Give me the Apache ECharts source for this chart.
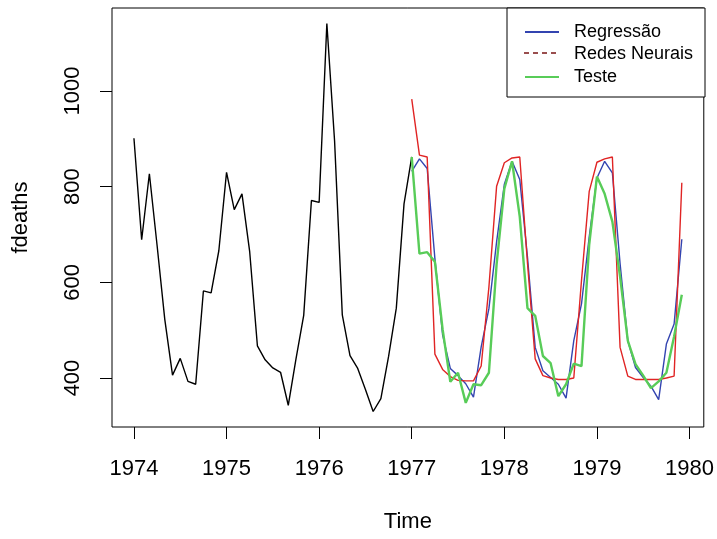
<!DOCTYPE html>
<html>
<head>
<meta charset="utf-8">
<script src="https://cdn.jsdelivr.net/npm/echarts@6/dist/echarts.min.js"></script>
<style>
html, body { margin: 0; padding: 0; background: #fff; }
#main { width: 717px; height: 539px; }
</style>
</head>
<body>
<div id="main"></div>
<script>
// serie mensal fdeaths, treino 1974 - jan/1977
var trainStart = 1974;
var treino = [901, 689, 827, 677, 522, 406, 441, 393, 387, 582, 578, 666,
  830, 752, 785, 664, 467, 438, 421, 412, 343, 440, 531, 771,
  767, 1141, 896, 532, 447, 420, 376, 330, 357, 445, 546, 764,
  862];

// periodo de teste 1977 - 1979
var testStart = 1977;
var teste = [862, 660, 663, 643, 502, 392, 411, 348, 387, 385, 411, 638,
  796, 853, 737, 546, 530, 446, 431, 362, 387, 430, 425, 679,
  821, 785, 727, 612, 478, 429, 405, 379, 393, 411, 487, 574];

var regressao = [832, 858, 838, 650, 490, 420, 405, 388, 360, 465, 545, 685,
  805, 853, 815, 653, 464, 415, 401, 387, 358, 478, 555, 695,
  818, 853, 829, 639, 478, 422, 401, 383, 355, 471, 513, 690];

var redes = [983, 866, 862, 450, 418, 403, 395, 394, 394, 425, 590, 801,
  850, 860, 862, 640, 440, 405, 400, 397, 397, 400, 604, 790,
  851, 858, 862, 464, 404, 397, 397, 397, 397, 400, 404, 808];

var xTicks = [1974, 1975, 1976, 1977, 1978, 1979, 1980];
var yTicks = [400, 600, 800, 1000];

// transforma vetor mensal em pares [tempo, valor]
function serie(start, vals) {
  var out = [];
  for (var i = 0; i < vals.length; i++) {
    out.push([start + i / 12, vals[i]]);
  }
  return out;
}

var chart = echarts.init(document.getElementById('main'));
var fonte = 'Liberation Sans, Arial, sans-serif';
var semSep = function (v) { return String(v); };

var option = {
  animation: false,
  grid: {
    left: 112, right: 12, top: 8, bottom: 112,
    show: true, borderColor: '#000', borderWidth: 1, backgroundColor: 'transparent'
  },
  graphic: [
    {
      type: 'rect',
      shape: { x: 507, y: 8, width: 198, height: 89 },
      style: { fill: '#fff', stroke: '#000', lineWidth: 1 },
      z: 50
    },
    {
      // traço da legenda "Redes Neurais" (tracejado vinho)
      type: 'line',
      shape: { x1: 524, y1: 53, x2: 558, y2: 53 },
      style: { stroke: '#7a1414', lineWidth: 1.6, lineDash: [5, 4] },
      z: 70
    }
  ],
  legend: {
    orient: 'vertical',
    left: 524, top: 23,
    padding: 0,
    itemWidth: 34, itemHeight: 14, itemGap: 4.5,
    selectedMode: false,
    z: 60,
    itemStyle: { opacity: 0 },
    textStyle: { fontFamily: fonte, fontSize: 18, color: '#000', padding: [0, 0, 0, 10] },
    data: [
      { name: 'Regressão' },
      { name: 'Redes Neurais', lineStyle: { opacity: 0 } },
      { name: 'Teste' }
    ]
  },
  xAxis: {
    type: 'value',
    min: 1973.763, max: 1980.154,
    splitLine: { show: false },
    axisLine: { show: false },
    axisTick: { show: true, length: 12, lineStyle: { color: '#000' }, customValues: xTicks },
    axisLabel: { customValues: xTicks, formatter: semSep, fontFamily: fonte, fontSize: 22, color: '#000', margin: 31 },
    name: 'Time', nameLocation: 'middle', nameGap: 84,
    nameTextStyle: { fontFamily: fonte, fontSize: 22, color: '#000' }
  },
  yAxis: {
    type: 'value',
    min: 297.6, max: 1173.4,
    splitLine: { show: false },
    axisLine: { show: false },
    axisTick: { show: true, length: 12, lineStyle: { color: '#000' }, customValues: yTicks },
    axisLabel: { customValues: yTicks, formatter: semSep, rotate: 90, fontFamily: fonte, fontSize: 22, color: '#000', margin: 28 },
    name: 'fdeaths', nameLocation: 'middle', nameGap: 80, nameRotate: 90,
    nameTextStyle: { fontFamily: fonte, fontSize: 22, color: '#000' }
  },
  series: [
    {
      name: 'fdeaths', type: 'line', symbol: 'none',
      lineStyle: { color: '#000', width: 1.4 },
      data: serie(trainStart, treino)
    },
    {
      name: 'Regressão', type: 'line', symbol: 'none',
      itemStyle: { color: '#3344b0' },
      lineStyle: { color: '#3344b0', width: 1.4 },
      data: serie(testStart, regressao)
    },
    {
      name: 'Redes Neurais', type: 'line', symbol: 'none',
      itemStyle: { color: '#7a1414' },
      lineStyle: { color: '#e02424', width: 1.4 },
      data: serie(testStart, redes)
    },
    {
      name: 'Teste', type: 'line', symbol: 'none',
      itemStyle: { color: '#58cc58' },
      lineStyle: { color: '#58cc58', width: 2.4 },
      data: serie(testStart, teste)
    }
  ]
};

chart.setOption(option);
</script>
</body>
</html>
